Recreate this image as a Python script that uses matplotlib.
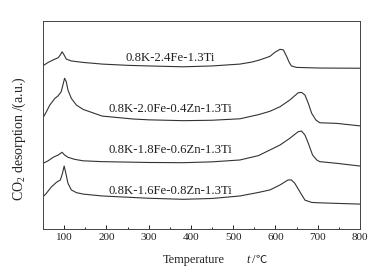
import matplotlib
matplotlib.use("Agg")
import matplotlib.pyplot as plt
from matplotlib.ticker import MultipleLocator

plt.rcParams['font.family'] = ['Liberation Serif', 'DejaVu Serif', 'DejaVu Sans']
plt.rcParams['mathtext.fontset'] = 'custom'
plt.rcParams['mathtext.rm'] = 'Liberation Serif'
plt.rcParams['mathtext.it'] = 'Liberation Serif:italic'

# CO2-TPD curves, values (a.u., offset for display)
t_1 = [50, 62, 74, 86, 91, 95, 99, 105, 117, 145, 190, 250, 300, 382, 450, 516,
       545, 563, 570, 587, 599, 611, 619, 627, 633, 638, 650, 705, 800]
y_1 = [78.5, 80.1, 81.3, 82.4, 83.7, 85.2, 84.0, 81.7, 80.8, 80.1, 79.3, 78.7, 78.4, 78.0, 78.4, 79.3,
       80.3, 81.3, 81.8, 83.0, 85.0, 86.4, 86.1, 82.8, 80.0, 78.4, 77.7, 77.4, 77.3]

t_2 = [50, 58, 66, 78, 86, 93, 97, 101, 105, 109, 117, 129, 145, 190, 263, 300, 382, 450,
       516, 560, 587, 611, 634, 654, 662, 670, 678, 686, 696, 705, 745, 800]
y_2 = [53.5, 56.4, 59.6, 62.8, 64.1, 66.0, 69.2, 72.5, 70.8, 66.8, 62.8, 59.6, 57.5, 54.3, 52.9, 52.5, 52.1, 52.3,
       53.0, 55.0, 56.6, 58.8, 62.0, 65.5, 65.7, 64.4, 60.4, 55.6, 52.4, 51.1, 50.8, 49.6]

t_3 = [50, 62, 74, 86, 95, 101, 109, 125, 145, 190, 300, 382, 450, 516, 560, 587,
       611, 634, 654, 662, 670, 678, 688, 698, 705, 745, 800]
y_3 = [31.6, 32.8, 34.5, 35.6, 36.9, 35.6, 34.5, 33.5, 32.8, 32.4, 32.0, 31.9, 32.3, 33.2, 35.3, 38.0,
       40.4, 43.6, 46.8, 47.1, 45.2, 41.2, 35.6, 33.2, 32.4, 31.6, 30.3]

t_4 = [50, 58, 70, 82, 91, 96, 100, 104, 109, 117, 129, 145, 190, 300, 382, 450, 516,
       560, 587, 611, 630, 638, 646, 658, 670, 686, 705, 800]
y_4 = [15.5, 17.2, 20.3, 22.5, 23.6, 26.8, 30.3, 26.8, 22.0, 18.8, 17.5, 16.8, 15.9, 14.8, 14.3, 14.7, 15.9,
       17.6, 18.8, 21.2, 23.6, 23.6, 22.0, 17.9, 13.9, 12.8, 12.6, 12.0]

series = [(t_1, y_1), (t_2, y_2), (t_3, y_3), (t_4, y_4)]
labels = ['0.8K-2.4Fe-1.3Ti', '0.8K-2.0Fe-0.4Zn-1.3Ti',
          '0.8K-1.8Fe-0.6Zn-1.3Ti', '0.8K-1.6Fe-0.8Zn-1.3Ti']
label_y = [82.1, 57.7, 38.0, 18.3]

fig = plt.figure(figsize=(3.71, 2.73), dpi=100)
ax = fig.add_axes([0.116, 0.161, 0.854, 0.762])

for (t, y), lab, ly in zip(series, labels, label_y):
    ax.plot(t, y, color='#333333', lw=0.8, solid_joinstyle='round')
    ax.text(351, ly, lab, ha='center', va='center', fontsize=9.2, color='#222222')

ax.set_xlim(50, 800)
ax.set_ylim(0, 100)
ax.xaxis.set_major_locator(MultipleLocator(100))
ax.xaxis.set_minor_locator(MultipleLocator(50))
ax.tick_params(axis='x', which='major', direction='in', length=3, width=0.7,
               labelsize=8, pad=3, colors='#222222')
ax.tick_params(axis='x', which='minor', direction='in', length=1.5, width=0.6)
ax.set_yticks([])
for sp in ax.spines.values():
    sp.set_linewidth(0.7)
    sp.set_color('#444444')

# x label in pieces: italic t and the degree-Celsius sign need other fonts
ax.text(0.476, -0.149, 'Temperature', transform=ax.transAxes,
        ha='center', va='center', fontsize=8.8, color='#222222')
ax.text(0.648, -0.149, 't', transform=ax.transAxes, style='italic',
        ha='center', va='center', fontsize=8.8, color='#222222')
ax.text(0.659, -0.149, '/', transform=ax.transAxes,
        ha='left', va='center', fontsize=8.8, color='#222222')
ax.text(0.672, -0.149, '℃', transform=ax.transAxes, family=['Noto Sans CJK SC', 'DejaVu Sans'],
        ha='left', va='center', fontsize=8.2, color='#222222')

ax.set_ylabel('CO$_2$ desorption /(a.u.)', fontsize=10, color='#222222')
ax.yaxis.set_label_coords(-0.047, 0.435)

fig.savefig('out.png', dpi=100)
